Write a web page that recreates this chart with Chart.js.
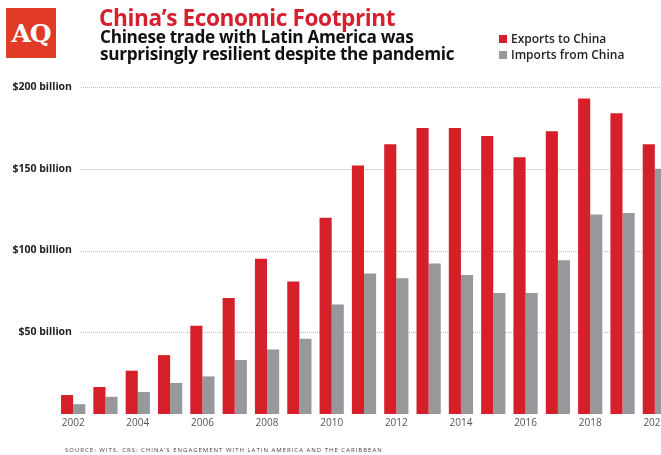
<!DOCTYPE html>
<html>
<head>
<meta charset="utf-8">
<script src="https://cdn.jsdelivr.net/npm/chart.js@4/dist/chart.umd.min.js"></script>
<style>
  html, body { margin: 0; padding: 0; background: #fff; }
  body { width: 661px; height: 455px; position: relative; overflow: hidden; font-family: "Open Sans", sans-serif; }
  .logo { position: absolute; left: 6px; top: 8px; width: 50px; height: 50px; background: #e13b26;
    color: #fff; font-family: "DejaVu Serif", serif; font-weight: bold; font-size: 25px; line-height: 52px; text-align: center; letter-spacing: -1px; }
  .title { position: absolute; left: 99px; top: 2px; color: #d4202f; font-weight: bold; font-size: 22.6px; letter-spacing: -0.4px; white-space: nowrap; }
  .subtitle { position: absolute; left: 100px; top: 28px; color: #111; font-weight: bold; font-size: 17.2px; line-height: 17px; letter-spacing: -0.3px; white-space: nowrap; }
  .legend { position: absolute; left: 499px; top: 31px; font-size: 12px; font-weight: 600; color: #222; line-height: 15.5px; }
  .legend span { display: inline-block; width: 8px; height: 8px; margin-right: 4px; }
  .source { position: absolute; left: 65px; top: 446px; font-size: 6px; letter-spacing: 1px; color: #444; white-space: nowrap; }
  .wrap { position: absolute; left: 0; top: 0; width: 680px; height: 455px; }
</style>
</head>
<body>
<div class="wrap"><canvas id="tradeChart"></canvas></div>
<div class="logo">AQ</div>
<div class="title">China’s Economic Footprint</div>
<div class="subtitle">Chinese trade with Latin America was<br>surprisingly resilient despite the pandemic</div>
<div class="legend">
  <div><span style="background:#d5202a"></span>Exports to China</div>
  <div><span style="background:#97989c"></span>Imports from China</div>
</div>
<div class="source">SOURCE: WITS, CRS: CHINA’S ENGAGEMENT WITH LATIN AMERICA AND THE CARIBBEAN</div>

<script>
// years on the x axis
const years = ['2002','2003','2004','2005','2006','2007','2008','2009','2010','2011',
  '2012','2013','2014','2015','2016','2017','2018','2019','2020'];

// Latin America exports to China, $ billion
const exportsToChina = [11.6, 16.5, 26.5, 36, 54, 71, 95, 81, 120, 152,
  165, 175, 175, 170, 157, 173, 193, 184, 165];

// Latin America imports from China, $ billion
const importsFromChina = [6, 10.5, 13.5, 19, 23, 33, 39.5, 46, 67, 86,
  83, 92, 85, 74, 74, 94, 122, 123, 150];

const yTicks = [50, 100, 150, 200];
const yLabel = v => '$' + v + ' billion';
const yFont = { family: 'Open Sans', size: 10.5, weight: 'bold' };

// dotted grid lines that start right of the tick labels
const dottedGrid = {
  id: 'dottedGrid',
  beforeDatasetsDraw(chart) {
    const { ctx, chartArea, scales } = chart;
    ctx.save();
    ctx.strokeStyle = '#bcbcbc';
    ctx.lineWidth = 1;
    ctx.setLineDash([1, 1]);
    yTicks.forEach(v => {
      const y = Math.round(scales.y.getPixelForValue(v)) + 0.5;
      ctx.beginPath();
      ctx.moveTo(81, y);
      ctx.lineTo(chartArea.right, y);
      ctx.stroke();
    });
    ctx.restore();
  }
};

const ctx = document.getElementById('tradeChart').getContext('2d');

// labels are mirrored into the plot and right aligned so they end near x=72
ctx.font = 'bold 10.5px "Open Sans"';
const widest = Math.max(...yTicks.map(v => ctx.measureText(yLabel(v)).width));

new Chart(ctx, {
  type: 'bar',
  data: {
    labels: years,
    datasets: [
      { label: 'Exports to China', data: exportsToChina, backgroundColor: '#d5202a' },
      { label: 'Imports from China', data: importsFromChina, backgroundColor: '#97989c' }
    ]
  },
  options: {
    responsive: true,
    maintainAspectRatio: false,
    animation: false,
    datasets: { bar: { categoryPercentage: 0.75, barPercentage: 1.0 } },
    layout: { padding: { top: 87, right: 9, bottom: 0, left: 0 } },
    plugins: { legend: { display: false }, tooltip: { enabled: false } },
    scales: {
      x: {
        grid: { display: false, drawTicks: false },
        border: { display: false },
        afterFit: s => { s.height = 41; },
        ticks: {
          autoSkip: false,
          maxRotation: 0,
          padding: 3,
          color: '#555',
          font: { family: 'Open Sans', size: 10 },
          callback: (val, i) => (i % 2 === 0 ? years[i] : '')
        }
      },
      y: {
        min: 0,
        max: 200,
        grid: { display: false, drawTicks: false },
        border: { display: false },
        afterFit: s => { s.width = 57; },
        ticks: {
          stepSize: 50,
          mirror: true,
          crossAlign: 'far',
          padding: 72 - 57 - widest,
          color: '#222',
          font: yFont,
          callback: v => (v === 0 ? '' : yLabel(v))
        }
      }
    }
  },
  plugins: [dottedGrid]
});
</script>
</body>
</html>
